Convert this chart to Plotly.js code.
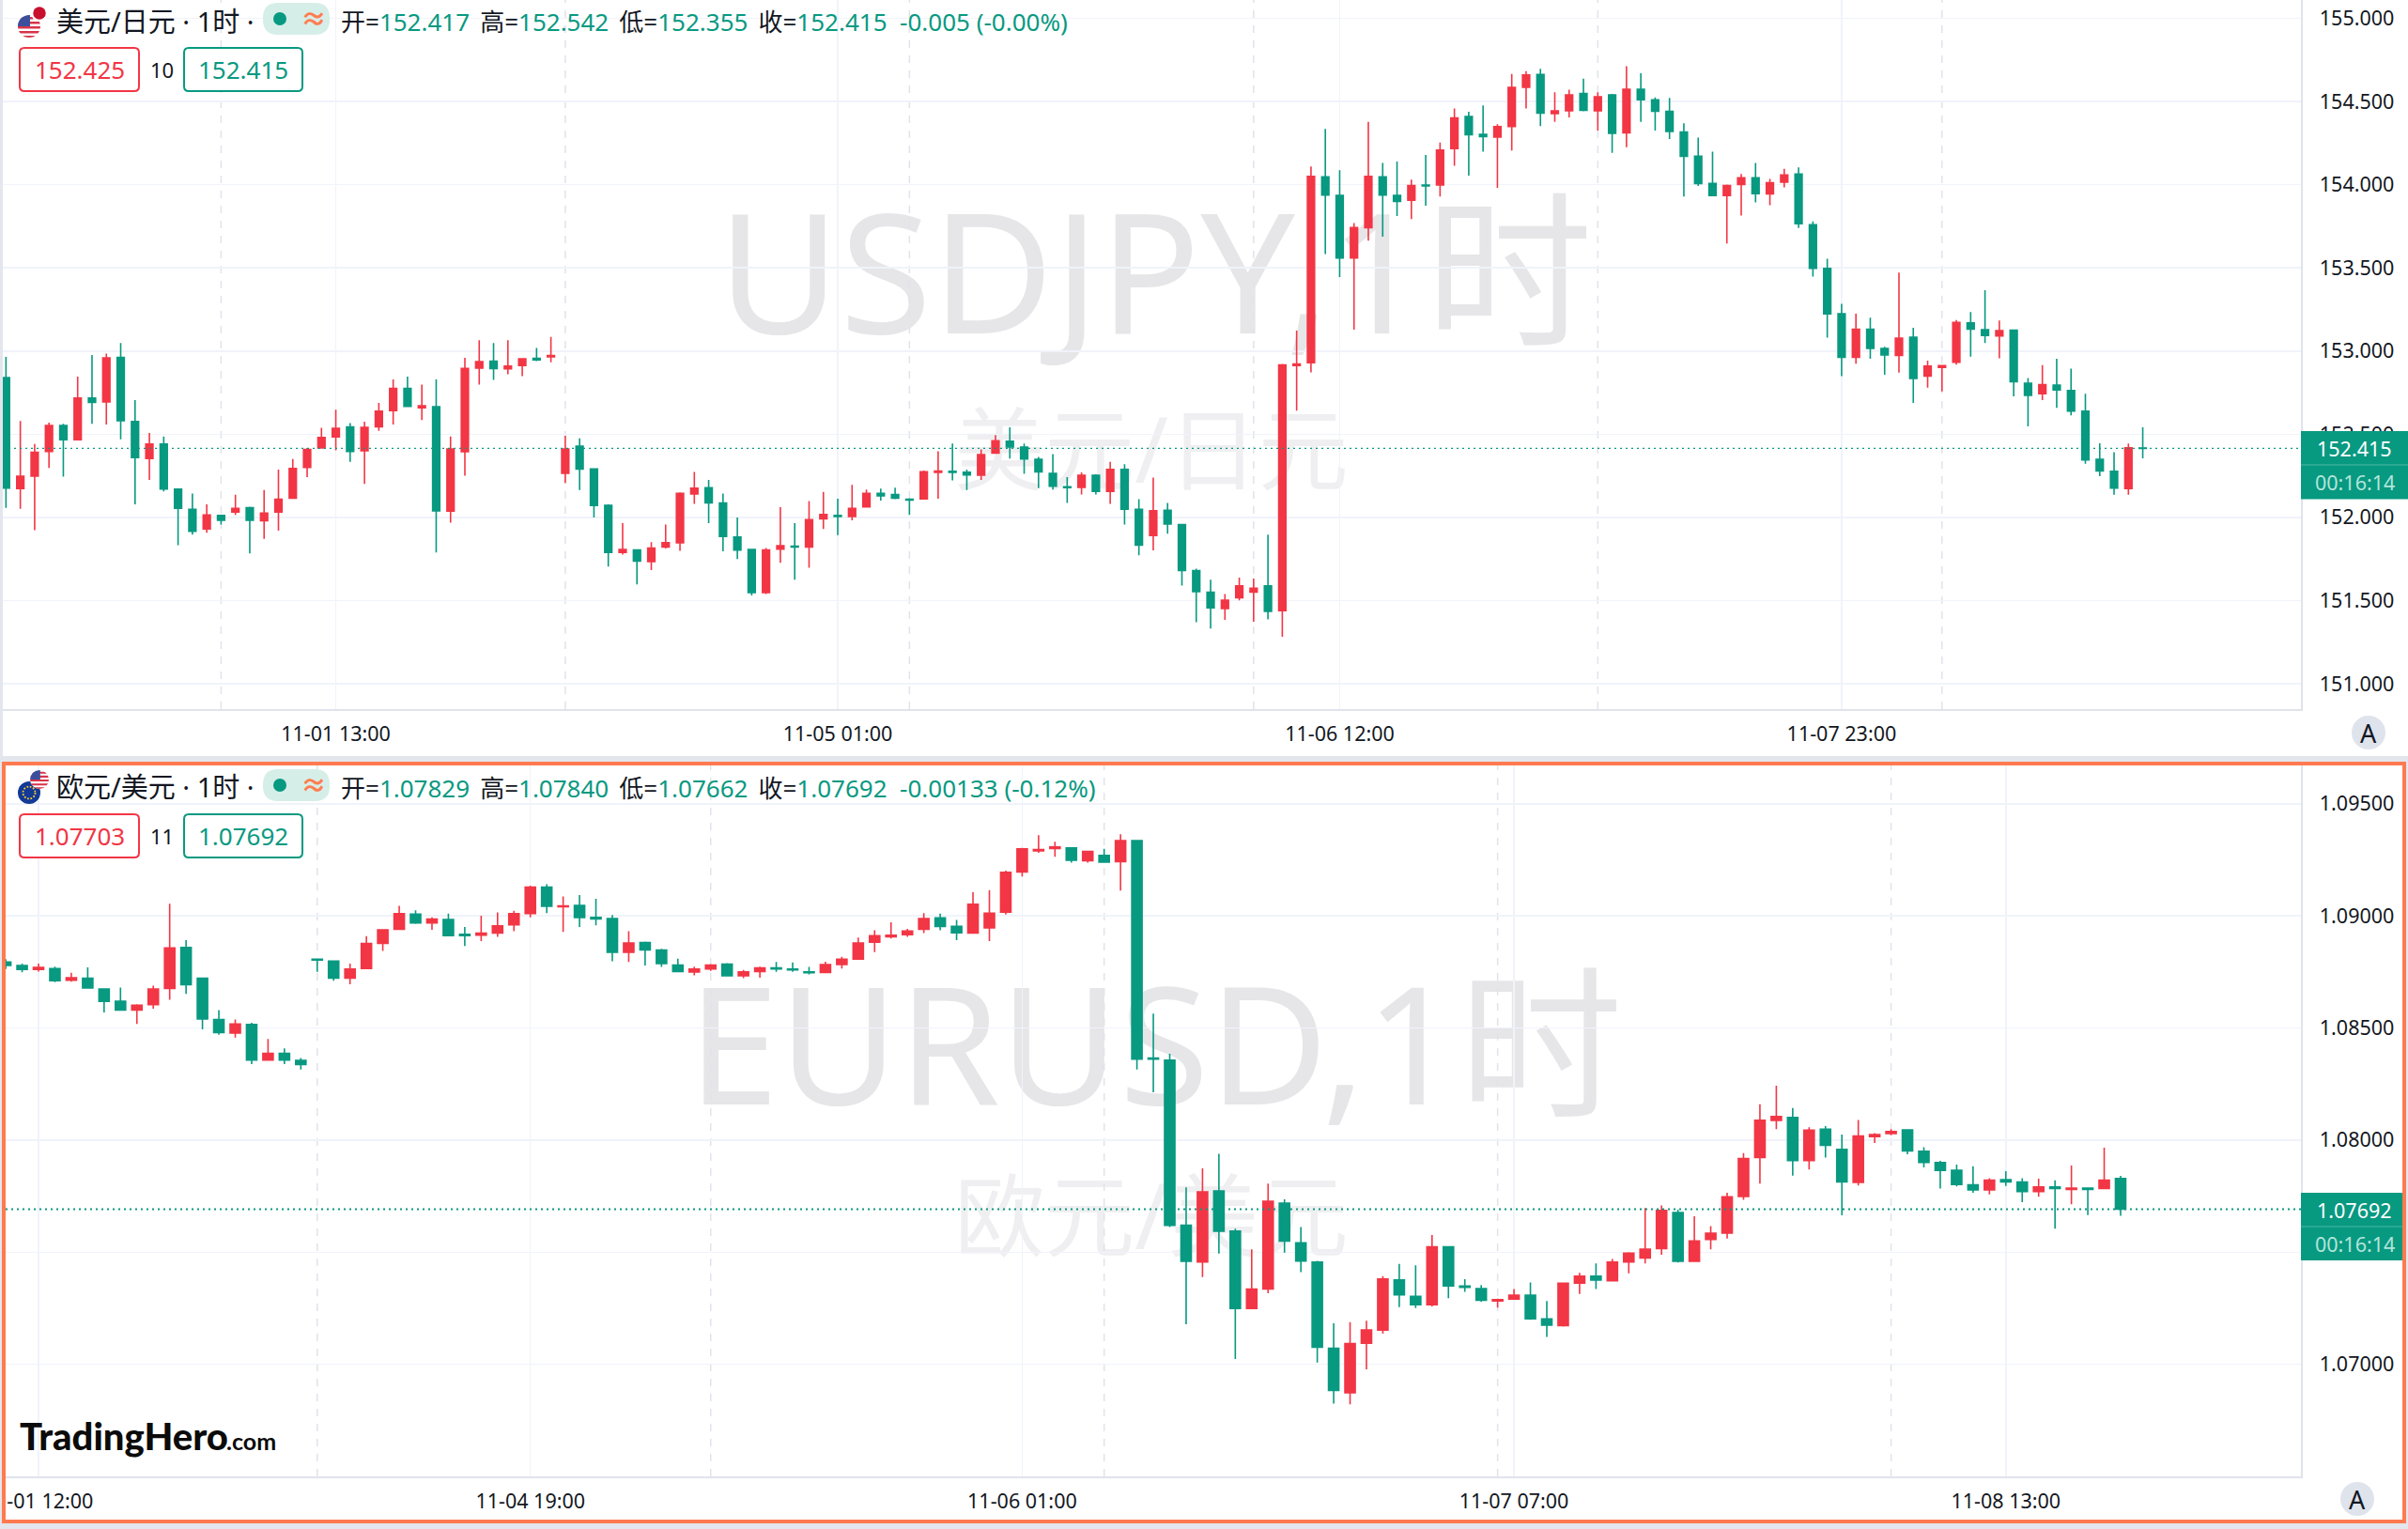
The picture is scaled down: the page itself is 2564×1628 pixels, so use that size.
<!DOCTYPE html>
<html>
<head>
<meta charset="utf-8">
<title>USDJPY / EURUSD</title>
<script src="https://cdn.plot.ly/plotly-3.0.1.min.js"></script>
<style>
    html, body { margin: 0; padding: 0; width: 2564px; height: 1628px; overflow: hidden; background: #e3e6ed; }
    #pane1 { position: absolute; left: 3px; top: 0; width: 2561px; height: 805px; background: #fff; overflow: hidden; }
    #frame2 { position: absolute; left: 2px; top: 811px; width: 2552px; height: 803px; border: 4px solid #ff7a50; background: #fff; overflow: hidden; }
    #pane2 { width: 2552px; height: 803px; }
</style>
</head>
<body>
<div id="pane1"></div>
<div id="frame2"><div id="pane2"></div></div>
<script>
const usdjpyOpen = [
    152.841,152.173,152.248,152.397,152.553,152.467,152.717,152.694,152.962,152.576,
    152.354,152.441,152.170,152.049,151.931,152.012,152.032,152.058,151.980,152.032,
    152.115,152.300,152.418,152.484,152.544,152.400,152.544,152.642,152.775,152.659,
    152.665,152.038,152.395,152.898,152.939,152.893,152.913,152.956,152.965,152.265,
    152.429,152.291,152.072,151.790,151.804,151.735,151.822,151.848,152.141,152.179,
    152.087,151.882,151.807,151.548,151.810,151.827,151.822,151.992,152.012,152.006,
    152.064,152.144,152.138,152.110,152.112,152.271,152.277,152.271,152.254,152.386,
    152.458,152.423,152.349,152.265,152.184,152.181,152.254,152.156,152.288,152.049,
    151.891,152.043,151.957,151.681,151.551,151.453,151.517,151.551,151.589,151.439,
    152.913,152.930,154.047,153.935,153.560,153.742,154.047,153.935,153.906,153.998,
    153.998,154.217,154.410,154.303,154.286,154.349,154.585,154.663,154.427,154.444,
    154.548,154.444,154.539,154.312,154.574,154.510,154.441,154.317,154.171,154.007,
    153.935,154.001,154.041,153.944,154.015,154.064,153.759,153.497,153.224,152.962,
    153.131,153.016,152.973,153.083,152.849,152.901,152.933,153.169,153.129,153.091,
    153.126,152.806,152.743,152.795,152.763,152.639,152.349,152.277,152.173,152.417
];
const usdjpyClose = [
    152.176,152.248,152.392,152.553,152.467,152.717,152.691,152.959,152.582,152.360,
    152.441,152.170,152.055,151.917,152.015,151.983,152.055,151.983,152.026,152.110,
    152.294,152.409,152.481,152.536,152.397,152.541,152.639,152.775,152.668,152.671,
    152.040,152.412,152.895,152.936,152.895,152.910,152.953,152.947,152.973,152.412,
    152.291,152.072,151.790,151.807,151.738,151.816,151.848,152.144,152.176,152.087,
    151.885,151.804,151.548,151.804,151.830,151.822,151.986,152.017,152.006,152.055,
    152.144,152.130,152.115,152.104,152.274,152.279,152.271,152.256,152.377,152.461,
    152.423,152.351,152.274,152.187,152.179,152.254,152.156,152.288,152.049,151.833,
    152.040,151.960,151.681,151.554,151.456,151.502,151.589,151.574,151.436,152.916,
    152.922,154.050,153.937,153.560,153.742,154.050,153.937,153.900,153.995,153.992,
    154.208,154.401,154.300,154.289,154.349,154.585,154.660,154.430,154.444,154.539,
    154.447,154.528,154.309,154.574,154.510,154.441,154.320,154.171,154.007,153.935,
    153.995,154.041,153.946,154.012,154.058,153.765,153.497,153.224,152.962,153.131,
    153.016,152.976,153.077,152.835,152.910,152.913,153.172,153.131,153.094,153.123,
    152.815,152.734,152.798,152.766,152.639,152.346,152.279,152.176,152.418,152.415
];
const usdjpyHigh = [
    152.965,152.579,152.441,152.570,152.562,152.847,152.976,152.985,153.048,152.705,
    152.507,152.487,152.170,152.144,152.078,152.017,152.136,152.064,152.164,152.288,
    152.351,152.418,152.538,152.648,152.567,152.576,152.688,152.829,152.847,152.798,
    152.829,152.487,152.959,153.065,153.048,153.065,152.956,153.019,153.085,152.490,
    152.475,152.291,152.078,151.966,151.804,151.851,151.957,152.150,152.274,152.225,
    152.144,152.000,151.810,151.816,152.061,151.966,152.098,152.153,152.112,152.196,
    152.167,152.173,152.179,152.115,152.282,152.397,152.444,152.288,152.409,152.495,
    152.541,152.444,152.363,152.380,152.242,152.271,152.259,152.334,152.320,152.110,
    152.239,152.087,151.957,151.692,151.626,151.540,151.638,151.632,151.897,152.922,
    153.123,154.110,154.335,154.087,153.770,154.378,154.130,154.139,154.030,154.179,
    154.254,154.458,154.438,154.476,154.363,154.666,154.683,154.697,154.556,154.571,
    154.637,154.556,154.545,154.712,154.669,154.525,154.522,154.369,154.283,154.199,
    154.001,154.064,154.130,154.035,154.096,154.104,153.779,153.555,153.284,153.224,
    153.201,153.025,153.471,153.140,152.942,152.916,153.186,153.235,153.365,153.183,
    153.126,152.838,152.916,152.953,152.895,152.743,152.446,152.392,152.444,152.542
];
const usdjpyLow = [
    152.058,152.052,151.923,152.297,152.245,152.467,152.562,152.559,152.469,152.078,
    152.225,152.156,151.833,151.897,151.908,151.957,152.015,151.784,151.871,151.920,
    152.115,152.242,152.418,152.403,152.334,152.202,152.521,152.559,152.668,152.585,
    151.790,151.969,152.251,152.798,152.826,152.861,152.849,152.939,152.933,152.207,
    152.164,152.000,151.704,151.776,151.597,151.684,151.813,151.799,152.081,151.966,
    151.796,151.750,151.531,151.540,151.727,151.626,151.698,151.931,151.894,151.983,
    152.061,152.101,152.110,152.015,152.110,152.112,152.222,152.164,152.225,152.386,
    152.354,152.262,152.176,152.167,152.087,152.138,152.138,152.081,151.957,151.773,
    151.802,151.902,151.591,151.370,151.332,151.384,151.502,151.373,151.387,151.283,
    152.642,152.872,153.583,153.445,153.129,153.664,153.687,153.811,153.794,153.874,
    153.929,154.113,154.055,154.199,153.981,154.205,154.458,154.352,154.378,154.404,
    154.441,154.326,154.191,154.225,154.378,154.326,154.274,153.929,153.992,153.935,
    153.647,153.814,153.894,153.877,153.984,153.739,153.448,153.080,152.849,152.924,
    152.953,152.858,152.870,152.688,152.780,152.757,152.919,152.967,153.048,152.956,
    152.728,152.547,152.705,152.659,152.613,152.323,152.248,152.136,152.136,152.355
];
const usdjpyTickBars = [23, 58, 93, 128];
const usdjpyTickLabels = ['11-01 13:00', '11-05 01:00', '11-06 12:00', '11-07 23:00'];
const usdjpySessionBars = [15, 39, 63, 87, 111, 135];
const usdjpyPriceTicks = [151, 151.5, 152, 152.5, 153, 153.5, 154, 154.5, 155];

const eurusdOpen = [
    1.08794,1.08779,1.08761,1.08765,1.08713,1.08722,1.08674,1.08619,1.08580,1.08604,
    1.08676,1.08859,1.08722,1.08538,1.08477,1.08516,1.08357,1.08387,1.08355,1.08807,
    1.08798,1.08722,1.08765,1.08877,1.08940,1.09008,1.08969,1.08984,1.08918,1.08914,
    1.08923,1.08960,1.09010,1.09128,1.09041,1.09047,1.08993,1.08988,1.08838,1.08881,
    1.08848,1.08781,1.08750,1.08763,1.08785,1.08733,1.08752,1.08768,1.08763,1.08750,
    1.08748,1.08783,1.08807,1.08883,1.08907,1.08916,1.08940,1.08991,1.08953,1.08923,
    1.08947,1.09017,1.09196,1.09290,1.09301,1.09303,1.09246,1.09270,1.09242,1.09336,
    1.08366,1.08357,1.07620,1.07456,1.07773,1.07594,1.07249,1.07336,1.07719,1.07542,
    1.07456,1.07072,1.06873,1.07094,1.07153,1.07376,1.07303,1.07266,1.07524,1.07349,
    1.07338,1.07282,1.07291,1.07308,1.07203,1.07173,1.07362,1.07393,1.07373,1.07456,
    1.07474,1.07516,1.07677,1.07459,1.07557,1.07585,1.07749,1.07922,1.08088,1.08101,
    1.07909,1.08049,1.07959,1.07811,1.08016,1.08029,1.08046,1.07950,1.07900,1.07865,
    1.07800,1.07778,1.07824,1.07813,1.07771,1.07791,1.07780,1.07786,1.07784,1.07829
];
const eurusdClose = [
    1.08779,1.08761,1.08770,1.08711,1.08724,1.08678,1.08619,1.08580,1.08602,1.08674,
    1.08857,1.08693,1.08540,1.08479,1.08518,1.08357,1.08387,1.08357,1.08337,1.08803,
    1.08722,1.08763,1.08877,1.08938,1.09010,1.08969,1.08986,1.08912,1.08912,1.08923,
    1.08956,1.09010,1.09128,1.09043,1.09045,1.08993,1.08986,1.08838,1.08879,1.08848,
    1.08787,1.08752,1.08763,1.08781,1.08733,1.08750,1.08768,1.08763,1.08759,1.08746,
    1.08783,1.08807,1.08879,1.08912,1.08914,1.08932,1.08988,1.08953,1.08925,1.09052,
    1.09012,1.09194,1.09299,1.09296,1.09307,1.09248,1.09288,1.09240,1.09336,1.08361,
    1.08361,1.07620,1.07459,1.07769,1.07594,1.07249,1.07336,1.07727,1.07550,1.07461,
    1.07076,1.06884,1.07092,1.07153,1.07380,1.07310,1.07266,1.07524,1.07349,1.07343,
    1.07286,1.07288,1.07308,1.07203,1.07175,1.07362,1.07393,1.07376,1.07456,1.07496,
    1.07513,1.07686,1.07459,1.07550,1.07585,1.07747,1.07918,1.08088,1.08105,1.07909,
    1.08044,1.07977,1.07813,1.08018,1.08025,1.08038,1.07952,1.07900,1.07865,1.07802,
    1.07778,1.07821,1.07813,1.07771,1.07791,1.07784,1.07786,1.07780,1.07821,1.07692
];
const eurusdHigh = [
    1.08807,1.08787,1.08787,1.08774,1.08746,1.08770,1.08674,1.08680,1.08606,1.08689,
    1.09054,1.08892,1.08722,1.08580,1.08538,1.08523,1.08451,1.08409,1.08366,1.08807,
    1.08798,1.08787,1.08910,1.08938,1.09045,1.09025,1.08993,1.09010,1.08951,1.09001,
    1.09015,1.09023,1.09135,1.09141,1.09087,1.09093,1.09076,1.09004,1.08932,1.08886,
    1.08853,1.08809,1.08774,1.08785,1.08789,1.08759,1.08774,1.08794,1.08792,1.08772,
    1.08796,1.08818,1.08903,1.08936,1.08971,1.08942,1.09012,1.09010,1.08982,1.09106,
    1.09115,1.09202,1.09303,1.09360,1.09331,1.09303,1.09288,1.09299,1.09364,1.09336,
    1.08564,1.08385,1.07789,1.07874,1.07939,1.07605,1.07513,1.07806,1.07736,1.07612,
    1.07461,1.07183,1.07188,1.07194,1.07393,1.07448,1.07441,1.07577,1.07524,1.07380,
    1.07354,1.07293,1.07336,1.07365,1.07282,1.07362,1.07408,1.07450,1.07470,1.07500,
    1.07697,1.07708,1.07690,1.07660,1.07616,1.07765,1.07942,1.08160,1.08243,1.08143,
    1.08057,1.08062,1.08025,1.08090,1.08031,1.08049,1.08046,1.07968,1.07907,1.07891,
    1.07883,1.07830,1.07861,1.07830,1.07828,1.07821,1.07887,1.07789,1.07966,1.07840
];
const eurusdLow = [
    1.08763,1.08748,1.08752,1.08704,1.08706,1.08676,1.08569,1.08577,1.08518,1.08586,
    1.08626,1.08652,1.08494,1.08470,1.08457,1.08339,1.08357,1.08339,1.08315,1.08750,
    1.08711,1.08695,1.08763,1.08844,1.08940,1.08964,1.08938,1.08910,1.08866,1.08888,
    1.08907,1.08932,1.08993,1.09012,1.08929,1.08951,1.08958,1.08798,1.08794,1.08779,
    1.08772,1.08750,1.08735,1.08755,1.08730,1.08722,1.08724,1.08750,1.08750,1.08739,
    1.08744,1.08765,1.08805,1.08838,1.08899,1.08907,1.08923,1.08936,1.08892,1.08921,
    1.08888,1.09006,1.09176,1.09281,1.09264,1.09237,1.09237,1.09237,1.09113,1.08315,
    1.08213,1.07612,1.07179,1.07389,1.07494,1.07024,1.07249,1.07317,1.07498,1.07411,
    1.07008,1.06825,1.06821,1.06978,1.07137,1.07255,1.07251,1.07258,1.07295,1.07323,
    1.07279,1.07253,1.07288,1.07199,1.07122,1.07168,1.07314,1.07336,1.07369,1.07406,
    1.07450,1.07489,1.07454,1.07459,1.07513,1.07561,1.07734,1.07806,1.08049,1.07841,
    1.07869,1.07922,1.07664,1.07797,1.07987,1.08022,1.07937,1.07878,1.07784,1.07793,
    1.07765,1.07758,1.07795,1.07723,1.07747,1.07605,1.07714,1.07666,1.07784,1.07662
];
const eurusdTickBars = [2, 32, 62, 92, 122];
const eurusdTickLabels = ['11-01 12:00', '11-04 19:00', '11-06 01:00', '11-07 07:00', '11-08 13:00'];
const eurusdSessionBars = [19, 43, 67, 91, 115];
const eurusdPriceTicks = [1.07, 1.075, 1.08, 1.085, 1.09, 1.095];

const UP = '#f23645';
const DOWN = '#089981';
const GRID = '#f0f3fa';
const EDGE = '#e0e3eb';
const INK = '#131722';
const FONT = '"Noto Sans", "Noto Sans CJK SC", sans-serif';

const usFlag = "<clipPath id='c'><circle cx='24' cy='24' r='24'/></clipPath><g clip-path='url(#c)'><rect width='48' height='48' fill='#fff'/>" +
    "<path d='M0 4h48v5H0zM0 14h48v5H0zM0 24h48v5H0zM0 34h48v5H0zM0 44h48v4H0z' fill='#d8344a'/><rect width='26' height='24' fill='#3c4f9c'/></g>";
const euFlag = "<circle cx='24' cy='24' r='24' fill='#123a96'/><circle cx='24' cy='24' r='13' fill='none' stroke='#ffd02b' stroke-width='3.5' stroke-dasharray='3.5 3.3'/>";
const jpFlag = "<circle cx='24' cy='24' r='24' fill='#fff'/><circle cx='24' cy='24' r='18' fill='#c8102e'/>";
function svgIcon(body) {
    return 'data:image/svg+xml,' + encodeURIComponent("<svg xmlns='http://www.w3.org/2000/svg' width='48' height='48' viewBox='0 0 48 48'>" + body + '</svg>');
}

function drawPane(cfg) {
    const m = cfg.margin;
    const plotW = cfg.width - m.l - m.r;
    const plotH = cfg.height - m.t - m.b;
    // page pixels to paper fractions
    const px = x => (x - cfg.ox - m.l) / plotW;
    const py = y => 1 - (y - cfg.oy - m.t) / plotH;
    const dy = cfg.headerDy;

    function text(x, y, str, size, color, extra) {
        return Object.assign({
            xref: 'paper', yref: 'paper', x: px(x), y: py(y), text: str, showarrow: false,
            xanchor: 'left', yanchor: 'middle', borderpad: 0, borderwidth: 0,
            font: { family: FONT, size: size, color: color }
        }, extra || {});
    }
    function box(x0, y0, x1, y1, fill, line, extra) {
        return Object.assign({
            type: 'rect', xref: 'paper', yref: 'paper',
            x0: px(x0), x1: px(x1), y0: py(y0), y1: py(y1),
            fillcolor: fill, line: line || { width: 0 }, layer: 'above'
        }, extra || {});
    }
    function roundBox(x0, y0, x1, y1, r, fill, lineColor) {
        const p = (x, y) => px(x) + ',' + py(y);
        const path = 'M' + p(x0 + r, y0) + ' L' + p(x1 - r, y0) + ' Q' + p(x1, y0) + ' ' + p(x1, y0 + r) +
            ' L' + p(x1, y1 - r) + ' Q' + p(x1, y1) + ' ' + p(x1 - r, y1) + ' L' + p(x0 + r, y1) +
            ' Q' + p(x0, y1) + ' ' + p(x0, y1 - r) + ' L' + p(x0, y0 + r) + ' Q' + p(x0, y0) + ' ' + p(x0 + r, y0) + ' Z';
        return { type: 'path', xref: 'paper', yref: 'paper', path: path, fillcolor: fill,
            line: { color: lineColor, width: lineColor === fill ? 0 : 2 }, layer: 'above' };
    }
    function circle(cx, cy, r, fill) {
        return { type: 'circle', xref: 'paper', yref: 'paper', x0: px(cx - r), x1: px(cx + r), y0: py(cy + r), y1: py(cy - r),
            fillcolor: fill, line: { width: 0 }, layer: 'above' };
    }
    function watermark(cx, cy, w, h, str, size, color) {
        return { type: 'rect', xref: 'paper', yref: 'paper', x0: px(cx - w / 2), x1: px(cx + w / 2), y0: py(cy + h / 2), y1: py(cy - h / 2),
            line: { width: 0 }, fillcolor: 'rgba(0,0,0,0)', layer: 'below',
            label: { text: str, textposition: 'middle center', font: { family: FONT, size: size, color: color } } };
    }
    function icon(src, cx, cy, r) {
        return { source: svgIcon(src), xref: 'paper', yref: 'paper', x: px(cx - r), y: py(cy - r),
            sizex: 2 * r / plotW, sizey: 2 * r / plotH, xanchor: 'left', yanchor: 'top', layer: 'above' };
    }

    const bars = cfg.open.map((_, i) => i);
    const trace = {
        type: 'candlestick', x: bars, open: cfg.open, high: cfg.high, low: cfg.low, close: cfg.close,
        increasing: { line: { color: UP, width: 1.6 }, fillcolor: UP },
        decreasing: { line: { color: DOWN, width: 1.6 }, fillcolor: DOWN },
        whiskerwidth: 0, hoverinfo: 'skip', showlegend: false
    };

    const shapes = [
        watermark(1230, cfg.markY1, 1300, 240, cfg.mark1, cfg.markSize, '#e6e6e8'),
        watermark(1226, cfg.markY2, 700, 130, cfg.mark2, 96, '#efeff1')
    ];
    cfg.sessions.forEach(b => shapes.push({
        type: 'line', xref: 'x', yref: 'paper', x0: b, x1: b, y0: 0, y1: 1, layer: 'below',
        line: { color: EDGE, width: 1.5, dash: '8px,8px' }
    }));
    shapes.push({
        type: 'line', xref: 'paper', yref: 'y', x0: 0, x1: 1, y0: cfg.last, y1: cfg.last, layer: 'above',
        line: { color: DOWN, width: cfg.lastWidth, dash: cfg.lastDash }
    });
    shapes.push(roundBox(21, 51 + dy, 148, 97 + dy, 5, '#ffffff', UP));
    shapes.push(roundBox(196, 51 + dy, 322, 97 + dy, 5, '#ffffff', DOWN));
    shapes.push(roundBox(280, 4 + dy - 1, 351, 38 + dy - 1, 16, '#d6eee8', '#d6eee8'));
    shapes.push(circle(298, 21 + dy - 1, 7, DOWN));
    // price tag on the axis
    shapes.push(box(2450, cfg.tagTop, 2564, cfg.tagBottom, DOWN));
    shapes.push({ type: 'line', xref: 'paper', yref: 'paper', x0: px(2450), x1: px(2564), y0: py(cfg.tagMid), y1: py(cfg.tagMid),
        line: { color: '#4db8a5', width: 1 }, layer: 'above' });
    shapes.push(circle(cfg.autoX, cfg.autoY, 18, '#dfe3ec'));

    const annotations = [
        text(60, 23 + dy - 1, cfg.pair + ' · 1时 ·', 29, INK),
        text(334, 21 + dy - 1, '<b>≈</b>', 28, '#ff7d52', { xanchor: 'center' }),
        text(363, 24 + dy - 1, cfg.ohlcText, 26, INK),
        text(84.5, 74 + dy, cfg.bid, 26, UP, { xanchor: 'center' }),
        text(172, 74 + dy, cfg.spread, 22, INK, { xanchor: 'center' }),
        text(259, 74 + dy, cfg.ask, 26, DOWN, { xanchor: 'center' }),
        text(2507, (cfg.tagTop + cfg.tagMid) / 2, cfg.lastText, 21.5, '#ffffff', { xanchor: 'center' }),
        text(2507, (cfg.tagMid + cfg.tagBottom) / 2, '00:16:14', 21.5, '#b2e5da', { xanchor: 'center' }),
        text(cfg.autoX, cfg.autoY, 'A', 27, INK, { xanchor: 'center' })
    ].concat(cfg.extraText ? cfg.extraText(text) : []);

    const layout = {
        width: cfg.width, height: cfg.height, margin: m,
        paper_bgcolor: '#ffffff', plot_bgcolor: '#ffffff',
        font: { family: FONT, size: 21.5, color: INK },
        boxgap: cfg.boxgap, boxgroupgap: 0, showlegend: false, dragmode: false,
        xaxis: {
            type: 'linear', range: cfg.xRange, rangeslider: { visible: false },
            tickmode: 'array', tickvals: cfg.tickBars, ticktext: cfg.tickLabels,
            showgrid: true, gridcolor: GRID, gridwidth: 1.5, zeroline: false,
            showline: true, linecolor: EDGE, linewidth: 2,
            ticks: 'outside', ticklen: 6, tickcolor: 'rgba(0,0,0,0)', tickangle: 0, ticklabeloverflow: 'allow',
            tickfont: { family: FONT, size: 21.5, color: INK }
        },
        yaxis: {
            range: cfg.yRange, side: 'right', tickmode: 'array', tickvals: cfg.priceTicks, tickformat: cfg.priceFormat,
            showgrid: true, gridcolor: GRID, gridwidth: 1.5, zeroline: false,
            showline: true, linecolor: EDGE, linewidth: 1.5,
            ticks: 'outside', ticklen: 14, tickcolor: 'rgba(0,0,0,0)',
            tickfont: { family: FONT, size: 21.5, color: INK }
        },
        shapes: shapes,
        annotations: annotations,
        images: [icon(cfg.flagA, cfg.flagAx, cfg.flagAy + dy, cfg.flagAr), icon(cfg.flagB, cfg.flagBx, cfg.flagBy + dy, cfg.flagBr)]
    };
    Plotly.newPlot(cfg.id, [trace], layout, { displayModeBar: false, staticPlot: true });
}

function ohlcLine(o, h, l, c, chg, pct) {
    const g = s => '<span style="color:' + DOWN + '">' + s + '</span>';
    const gap = '\u00a0\u2009';
    return '开=' + g(o) + gap + '高=' + g(h) + gap + '低=' + g(l) + gap + '收=' + g(c) + '\u00a0\u00a0' + g(chg + ' (' + pct + ')');
}

drawPane({
    id: 'pane1', width: 2561, height: 805, ox: 3, oy: 0,
    margin: { l: 0, r: 114, t: 0, b: 50 },
    open: usdjpyOpen, high: usdjpyHigh, low: usdjpyLow, close: usdjpyClose,
    tickBars: usdjpyTickBars, tickLabels: usdjpyTickLabels, sessions: usdjpySessionBars, priceTicks: usdjpyPriceTicks,
    priceFormat: '.3f', xRange: [-0.22, 160.03], yRange: [150.848, 155.11], boxgap: 0.5,
    last: 152.415, lastText: '152.415', lastWidth: 1.2, lastDash: '2px,4px',
    tagTop: 459, tagMid: 495, tagBottom: 531.5, autoX: 2522, autoY: 780, headerDy: 0,
    pair: '美元/日元', bid: '152.425', spread: '10', ask: '152.415',
    ohlcText: ohlcLine('152.417', '152.542', '152.355', '152.415', '-0.005', '-0.00%'),
    mark1: 'USDJPY,1时', mark2: '美元/日元', markSize: 178, markY1: 298, markY2: 483,
    flagA: usFlag, flagAx: 31, flagAy: 28, flagAr: 12, flagB: jpFlag, flagBx: 42, flagBy: 14, flagBr: 9
});

drawPane({
    id: 'pane2', width: 2552, height: 803, ox: 6, oy: 815,
    margin: { l: 0, r: 108, t: 0, b: 46 },
    open: eurusdOpen, high: eurusdHigh, low: eurusdLow, close: eurusdClose,
    tickBars: eurusdTickBars, tickLabels: eurusdTickLabels, sessions: eurusdSessionBars, priceTicks: eurusdPriceTicks,
    priceFormat: '.5f', xRange: [-0.006, 140.0], yRange: [1.065, 1.09671], boxgap: 0.37,
    last: 1.07692, lastText: '1.07692', lastWidth: 2, lastDash: '2px,4px',
    tagTop: 1270, tagMid: 1306, tagBottom: 1342, autoX: 2510, autoY: 1596, headerDy: 816,
    pair: '欧元/美元', bid: '1.07703', spread: '11', ask: '1.07692',
    ohlcText: ohlcLine('1.07829', '1.07840', '1.07662', '1.07692', '-0.00133', '-0.12%'),
    mark1: 'EURUSD,1时', mark2: '欧元/美元', markSize: 174, markY1: 1120, markY2: 1299,
    flagA: euFlag, flagAx: 31, flagAy: 28, flagAr: 12, flagB: usFlag, flagBx: 42, flagBy: 14, flagBr: 10,
    extraText: text => [
        text(21, 1529, 'TradingHero', 40, '#0b0b0b', { font: { family: 'Lato, ' + FONT, size: 40, weight: 900, color: '#0b0b0b' } }),
        text(241, 1534, '.com', 25, '#0b0b0b', { font: { family: 'Lato, ' + FONT, size: 25, weight: 700, color: '#0b0b0b' } })
    ]
});
</script>
</body>
</html>
